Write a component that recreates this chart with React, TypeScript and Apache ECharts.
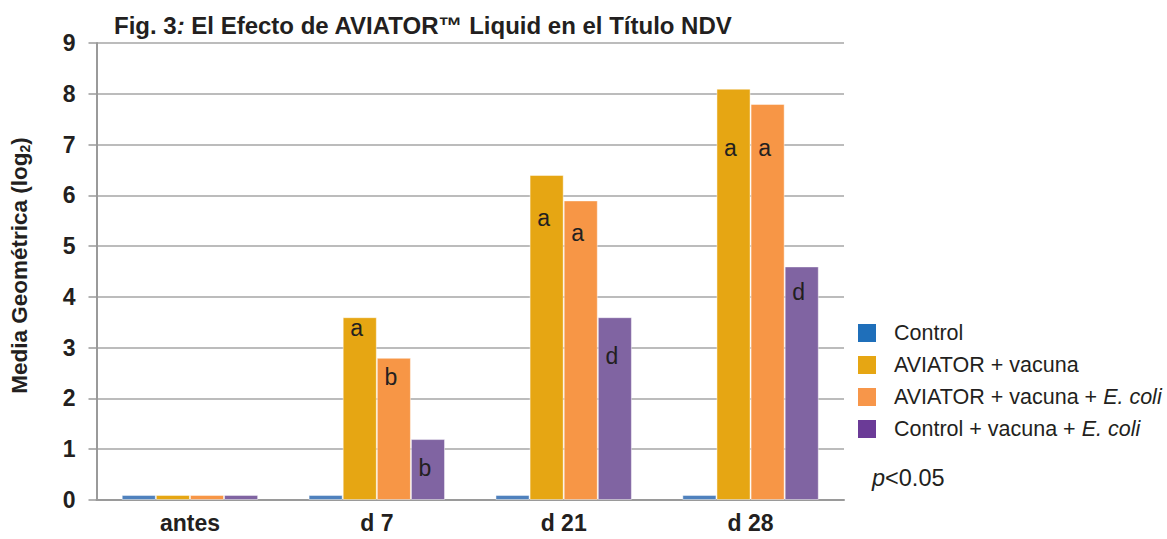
import React, { useEffect, useRef } from "react";
import * as echarts from "echarts";

const categories = ["antes", "d 7", "d 21", "d 28"];
const seriesNames = [
  "Control",
  "AVIATOR + vacuna",
  "AVIATOR + vacuna + E. coli",
  "Control + vacuna + E. coli",
];
const control = [0.1, 0.1, 0.1, 0.1];
const aviator = [0.1, 3.6, 6.4, 8.1];
const aviatorEcoli = [0.1, 2.8, 5.9, 7.8];
const controlEcoli = [0.1, 1.2, 3.6, 4.6];
const lettersAviator = ["", "a", "a", "a"];
const lettersAviatorEcoli = ["", "b", "a", "a"];
const lettersControlEcoli = ["", "b", "d", "d"];
const yTicks = [0, 1, 2, 3, 4, 5, 6, 7, 8, 9];

const FONT = "'Liberation Sans', Arial, sans-serif";

export default function App() {
  const ref = useRef<HTMLDivElement>(null);
  useEffect(() => {
    const chart = echarts.init(ref.current!, undefined, { renderer: "svg" });
    const barColors = ["#4f81bd", "#e6a613", "#f79646", "#8064a2"];
    const legendColors = ["#1f6fba", "#e6a613", "#f7964a", "#6b3b97"];
    const labelOffsets = [
      [0, 0, 0, 0],
      [0, 0, 32, 48],
      [0, 8, 22, 33],
      [0, 18, 28, 15],
    ];
    const values = [control, aviator, aviatorEcoli, controlEcoli];
    const letters = [null, lettersAviator, lettersAviatorEcoli, lettersControlEcoli];
    const series = values.map((vals, si) => ({
      name: seriesNames[si],
      type: "bar",
      barGap: "0%",
      barCategoryGap: "27%",
      itemStyle: {
        color: barColors[si],
        borderColor: "rgba(255,255,255,0.45)",
        borderWidth: 1,
      },
      data: vals.map((v, i) => {
        const l = letters[si];
        if (!l || !l[i]) return { value: v };
        return {
          value: v,
          label: {
            show: true,
            position: "insideTop",
            distance: 0,
            offset: [-3, labelOffsets[si][i]],
            formatter: l[i],
            fontSize: 23,
            lineHeight: 22,
            color: "#231f20",
            fontFamily: FONT,
          },
        };
      }),
    }));
    chart.setOption({
      animation: false,
      backgroundColor: "#ffffff",
      title: {
        text: "Fig. 3{i|:} El Efecto de AVIATOR™ Liquid en el Título NDV",
        left: 109,
        top: 8,
        textStyle: {
          fontFamily: FONT,
          fontSize: 24,
          fontWeight: "bold",
          color: "#231f20",
          rich: {
            i: {
              fontFamily: FONT,
              fontSize: 24,
              fontWeight: "bold",
              fontStyle: "italic",
              color: "#231f20",
            },
          },
        },
      },
      legend: {
        orient: "vertical",
        left: 853,
        top: 317,
        itemWidth: 18,
        itemHeight: 18,
        itemGap: 10,
        icon: "rect",
        data: seriesNames.map((n, i) => ({
          name: n,
          itemStyle: { color: legendColors[i], borderWidth: 0 },
        })),
        formatter: (name: string) => name.replace("E. coli", "{i|E. coli}"),
        textStyle: {
          fontFamily: FONT,
          fontSize: 21.5,
          color: "#231f20",
          padding: [0, 0, 0, 13],
          rich: {
            i: { fontFamily: FONT, fontSize: 21.5, fontStyle: "italic", color: "#231f20" },
          },
        },
      },
      graphic: [
        {
          type: "text",
          left: 872,
          top: 466,
          style: {
            text: "{i|p}<0.05",
            fontFamily: FONT,
            fontSize: 23.5,
            fill: "#231f20",
            rich: {
              i: { fontFamily: FONT, fontSize: 23.5, fontStyle: "italic", fill: "#231f20" },
            },
          },
        },
      ],
      grid: { left: 96, top: 43, width: 748, height: 457, containLabel: false },
      xAxis: {
        type: "category",
        data: categories,
        axisLine: { lineStyle: { color: "#9a9a9a", width: 2 } },
        axisTick: { show: false },
        axisLabel: {
          margin: 11,
          fontFamily: FONT,
          fontSize: 23,
          fontWeight: "bold",
          color: "#231f20",
        },
      },
      yAxis: {
        type: "value",
        min: 0,
        max: 9,
        interval: 1,
        name: "Media Geométrica (log{s|2})",
        nameLocation: "middle",
        nameGap: 65,
        nameRotate: 90,
        nameTextStyle: {
          fontFamily: FONT,
          fontSize: 22.5,
          fontWeight: "bold",
          color: "#231f20",
          padding: [0, 0, 0, 12],
          rich: {
            s: {
              fontFamily: FONT,
              fontSize: 14,
              fontWeight: "bold",
              color: "#231f20",
              padding: [10, 0, 0, 0],
            },
          },
        },
        axisLine: { show: true, lineStyle: { color: "#9a9a9a", width: 2 } },
        axisTick: { show: true, length: 8, lineStyle: { color: "#9a9a9a", width: 1.5 } },
        axisLabel: {
          margin: 21,
          fontFamily: FONT,
          fontSize: 23,
          fontWeight: "bold",
          color: "#231f20",
          formatter: (v: number) => (yTicks.includes(v) ? String(v) : ""),
        },
        splitLine: { lineStyle: { color: "#a6a6a6", width: 1.5 } },
      },
      series,
    });
    return () => chart.dispose();
  }, []);
  return (
    <div
      ref={ref}
      style={{ position: "fixed", left: 0, top: 0, width: 1167, height: 539 }}
    />
  );
}
